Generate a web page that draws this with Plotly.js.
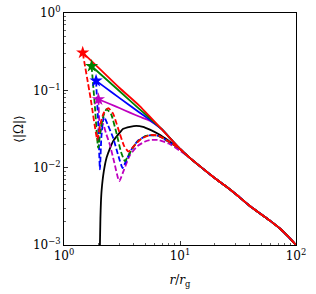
<!DOCTYPE html>
<html>
<head>
<meta charset="utf-8">
<script src="https://cdn.plot.ly/plotly-3.0.1.min.js"></script>
<style>html,body{margin:0;padding:0;background:#fff;}#chart{width:316px;height:294px;}</style>
</head>
<body>
<div id="chart"></div>
<script>
// shared outer tail (r >= 10)
const rTail = [10, 12, 15, 20, 25, 30, 40, 50, 60, 73, 85, 100];
const wTail = [0.0175, 0.0136, 0.0103, 0.0073, 0.0057, 0.0046, 0.0032, 0.0025, 0.00205, 0.00162, 0.0013, 0.001];

// solid curves (inner part)
const rRedSolid = [1.45, 2, 3, 4.5, 5.5, 7, 8.5];
const wRedSolid = [0.307, 0.194, 0.108, 0.0625, 0.0456, 0.0311, 0.0227];
const rGreenSolid = [1.73, 2, 3, 4.5, 5.5, 7, 8.5];
const wGreenSolid = [0.206, 0.169, 0.098, 0.0568, 0.0436, 0.0312, 0.0227];
const rBlueSolid = [1.89, 2.2, 3, 4.5, 5.5, 7, 8.5];
const wBlueSolid = [0.133, 0.1125, 0.0799, 0.0514, 0.0414, 0.0312, 0.0227];
const rMagSolid = [1.98, 2.49, 3.04, 3.7, 4.5, 5.5, 7, 8.5];
const wMagSolid = [0.0766, 0.0666, 0.0586, 0.0515, 0.0455, 0.0405, 0.0312, 0.0227];

// dashed curves (inner part)
const rRedDash = [1.45, 1.7, 1.94, 2.05, 2.2, 2.41, 2.65, 2.93, 3.3, 3.6, 4.0, 4.6, 5.5, 6.5, 8.0];
const wRedDash = [0.307, 0.077, 0.023, 0.036, 0.051, 0.059, 0.05, 0.032, 0.019, 0.0161, 0.019, 0.0235, 0.0264, 0.026, 0.0218];
const rGreenDash = [1.73, 1.85, 1.97, 2.08, 2.2, 2.33, 2.55, 2.85, 3.1, 3.35, 3.7, 4.2, 5.0, 5.5, 6.5, 8.0];
const wGreenDash = [0.206, 0.06, 0.018, 0.033, 0.048, 0.057, 0.049, 0.027, 0.016, 0.0122, 0.0155, 0.021, 0.0255, 0.0264, 0.0258, 0.0217];
const rBlueDash = [1.89, 1.97, 2.04, 2.1, 2.21, 2.4, 2.66, 2.95, 3.2, 3.45, 3.8, 4.3, 5.0, 5.5, 6.5, 8.0];
const wBlueDash = [0.133, 0.038, 0.0095, 0.025, 0.0456, 0.035, 0.024, 0.014, 0.0099, 0.0125, 0.017, 0.022, 0.0255, 0.0262, 0.0258, 0.0216];
const rMagDash = [1.98, 2.05, 2.16, 2.3, 2.49, 2.7, 2.93, 3.0, 3.3, 3.7, 4.3, 5.0, 5.5, 6.5, 8.0, 10];
const wMagDash = [0.0766, 0.028, 0.0374, 0.028, 0.0196, 0.012, 0.0072, 0.0067, 0.0095, 0.0145, 0.019, 0.0218, 0.0228, 0.0228, 0.0205, 0.0165];

// black curve
const rBlack = [2.04, 2.06, 2.08, 2.11, 2.2, 2.33, 2.49, 2.66, 3.0, 3.24, 3.7, 4.2, 4.8, 5.5, 6.7, 8.0];
const wBlack = [0.001, 0.0022, 0.0035, 0.0051, 0.0088, 0.0135, 0.0178, 0.0222, 0.028, 0.0318, 0.0338, 0.0348, 0.0338, 0.031, 0.0266, 0.0222];

const xTickVals = [1, 10, 100];
const xTickText = ['10<sup>0</sup>', '10<sup>1</sup>', '10<sup>2</sup>'];
const yTickVals = [0.001, 0.01, 0.1, 1];
const yTickText = ['10<sup>−3</sup>', '10<sup>−2</sup>', '10<sup>−1</sup>', '10<sup>0</sup>'];

const RED = '#ff0000', GREEN = '#008000', BLUE = '#0000ff', MAG = '#bf00bf';
const LW = 1.8;

function line(rIn, wIn, color, dash, tailStart) {
  const s = tailStart || 0;
  return {
    x: rIn.concat(rTail.slice(s)), y: wIn.concat(wTail.slice(s)),
    type: 'scatter', mode: 'lines',
    line: {color: color, width: LW, dash: dash, shape: 'spline', smoothing: 0.5},
    hoverinfo: 'skip', showlegend: false
  };
}
function star(rIn, wIn, color) {
  return {x: [rIn[0]], y: [wIn[0]], type: 'scatter', mode: 'markers',
    marker: {symbol: 'star', size: 10, color: color, line: {width: 0}},
    hoverinfo: 'skip', showlegend: false};
}

const DASH = '5.5px,2.5px';
const data = [
  line(rBlack, wBlack, '#000000', 'solid'),
  line(rMagDash, wMagDash, MAG, DASH, 1),
  line(rMagSolid, wMagSolid, MAG, 'solid'),
  line(rBlueDash, wBlueDash, BLUE, DASH),
  line(rBlueSolid, wBlueSolid, BLUE, 'solid'),
  line(rGreenDash, wGreenDash, GREEN, DASH),
  line(rGreenSolid, wGreenSolid, GREEN, 'solid'),
  line(rRedDash, wRedDash, RED, DASH),
  line(rRedSolid, wRedSolid, RED, 'solid'),
  star(rMagSolid, wMagSolid, MAG),
  star(rBlueSolid, wBlueSolid, BLUE),
  star(rGreenSolid, wGreenSolid, GREEN),
  star(rRedSolid, wRedSolid, RED)
];

const minorX = {tickvals: [2,3,4,5,6,7,8,9,20,30,40,50,60,70,80,90], ticks: 'inside', ticklen: 2, tickcolor: '#000', tickwidth: 0.6, showgrid: false};
const minorY = {tickvals: [0.002,0.003,0.004,0.005,0.006,0.007,0.008,0.009,0.02,0.03,0.04,0.05,0.06,0.07,0.08,0.09,0.2,0.3,0.4,0.5,0.6,0.7,0.8,0.9], ticks: 'inside', ticklen: 2, tickcolor: '#000', tickwidth: 0.6, showgrid: false};

const font = {family: '"DejaVu Serif", "Liberation Serif", serif', size: 12, color: '#000'};

const layout = {
  width: 316, height: 294,
  margin: {l: 64, r: 20, t: 13, b: 49},
  paper_bgcolor: '#fff', plot_bgcolor: '#fff',
  font: font,
  showlegend: false,
  xaxis: {
    type: 'log', range: [0, 2],
    tickmode: 'array', tickvals: xTickVals, ticktext: xTickText,
    ticks: 'inside', ticklen: 4, tickwidth: 0.8, tickcolor: '#000',
    showline: true, linecolor: '#000', linewidth: 1, mirror: true,
    showgrid: false, zeroline: false,
    minor: minorX,
    tickfont: {family: font.family, size: 12, color: '#000'},
    title: {text: '<i>r</i>/<i>r</i><sub>g</sub>', font: {family: font.family, size: 12, color: '#000'}, standoff: 13}
  },
  yaxis: {
    type: 'log', range: [-3, 0],
    tickmode: 'array', tickvals: yTickVals, ticktext: yTickText,
    ticks: 'inside', ticklen: 4, tickwidth: 0.8, tickcolor: '#000',
    showline: true, linecolor: '#000', linewidth: 1, mirror: true,
    showgrid: false, zeroline: false,
    minor: minorY,
    tickfont: {family: font.family, size: 12, color: '#000'},
    title: {text: '⟨|Ω|⟩', font: {family: font.family, size: 12, color: '#000'}, standoff: 6}
  }
};

Plotly.newPlot('chart', data, layout, {staticPlot: true, displayModeBar: false});
</script>
</body>
</html>
